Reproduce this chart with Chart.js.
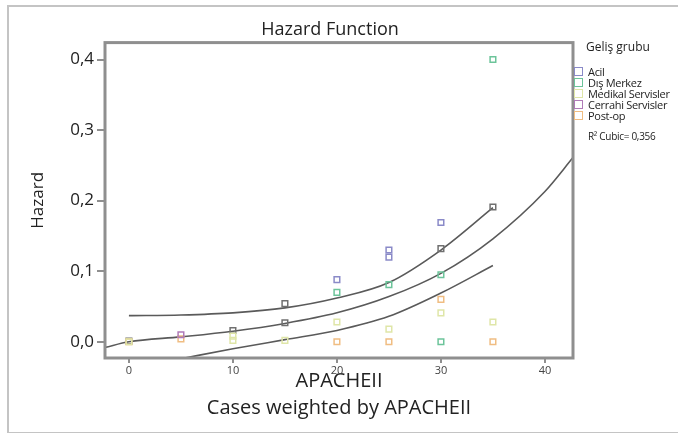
<!DOCTYPE html>
<html>
<head>
<meta charset="utf-8">
<script src="https://cdn.jsdelivr.net/npm/chart.js@4"></script>
<style>
  html, body { margin: 0; padding: 0; background: #fff; }
  #wrap { position: relative; width: 678px; height: 433px; overflow: hidden; font-family: "Open Sans", sans-serif; color: #222; }
  #frame { position: absolute; left: 7px; top: 5px; width: 690px; height: 425px; border: 2px solid #c4c4c4; }
  #legend { position: absolute; left: 574px; top: 41px; font-size: 11px; line-height: 11px; }
  #legend .head { font-size: 12px; margin: 0 0 14px 12px; }
  #legend .item { position: relative; padding-left: 14px; height: 11px; letter-spacing: -0.3px; white-space: nowrap; }
  #legend .box { position: absolute; left: 0; top: 1px; width: 7px; height: 7px; border: 1.5px solid; }
  #legend .r2 { font-size: 10px; margin: 10px 0 0 14px; letter-spacing: -0.3px; }
</style>
</head>
<body>
<div id="wrap">
  <div id="frame"></div>
  <canvas id="hazardChart" width="678" height="433"></canvas>
  <div id="legend"></div>
</div>
<script>
const xTicks = [0, 10, 20, 30, 40];
const yTicks = [0, 0.1, 0.2, 0.3, 0.4];

const seriesNames = ["Acil", "Dış Merkez", "Medikal Servisler", "Cerrahi Servisler", "Post-op"];
const seriesColors = ["#8a8ac8", "#6cc49a", "#dfe6a8", "#b07ab8", "#f0bd82"];

// observed hazard points per group (x = APACHEII)
const acilPts = [{x: 20, y: 0.088}, {x: 25, y: 0.130}, {x: 25, y: 0.120}, {x: 30, y: 0.169}];
const disMerkezPts = [{x: 20, y: 0.070}, {x: 25, y: 0.081}, {x: 30, y: 0.095}, {x: 30, y: 0.0}, {x: 35, y: 0.400}];
const medikalPts = [{x: 0, y: 0.0}, {x: 10, y: 0.008}, {x: 10, y: 0.002}, {x: 15, y: 0.002}, {x: 20, y: 0.028}, {x: 25, y: 0.018}, {x: 30, y: 0.041}, {x: 35, y: 0.028}];
const cerrahiPts = [{x: 5, y: 0.010}];
const postOpPts = [{x: 0, y: 0.0}, {x: 5, y: 0.004}, {x: 20, y: 0.0}, {x: 25, y: 0.0}, {x: 30, y: 0.060}, {x: 35, y: 0.0}];
const totalPts = [{x: 0, y: 0.001}, {x: 10, y: 0.016}, {x: 15, y: 0.054}, {x: 15, y: 0.027}, {x: 30, y: 0.132}, {x: 35, y: 0.191}];

// cubic fit and its bands
const fitX = [-2.3, 0, 5, 10, 15, 20, 25, 30, 35, 40, 42.7];
const fitY = [-0.008, 0.0, 0.007, 0.015, 0.026, 0.041, 0.064, 0.097, 0.146, 0.213, 0.261];
const upperX = [0, 5, 10, 15, 20, 25, 30, 35];
const upperY = [0.037, 0.038, 0.041, 0.048, 0.062, 0.084, 0.130, 0.190];
const lowerX = [5, 10, 15, 20, 25, 30, 35];
const lowerY = [-0.024, -0.010, 0.003, 0.016, 0.036, 0.069, 0.108];

const groupPts = [acilPts, disMerkezPts, medikalPts, cerrahiPts, postOpPts];

function pairs(xs, ys) {
  return xs.map((x, i) => ({x: x, y: ys[i]}));
}

function curve(xs, ys) {
  return {
    type: "line",
    data: pairs(xs, ys),
    borderColor: "#5a5a5a",
    borderWidth: 1.6,
    pointRadius: 0,
    fill: false,
    cubicInterpolationMode: "monotone",
  };
}

const datasets = [];
groupPts.forEach((pts, i) => {
  datasets.push({
    type: "scatter",
    label: seriesNames[i],
    data: pts,
    pointStyle: "rect",
    pointRadius: 4,
    borderColor: seriesColors[i],
    backgroundColor: "rgba(255,255,255,0)",
    borderWidth: 1.5,
  });
});
datasets.push({
  type: "scatter",
  label: "total",
  data: totalPts,
  pointStyle: "rect",
  pointRadius: 4,
  borderColor: "#707070",
  backgroundColor: "rgba(255,255,255,0)",
  borderWidth: 1.5,
});
datasets.push(curve(fitX, fitY));
datasets.push(curve(upperX, upperY));
datasets.push(curve(lowerX, lowerY));

//draws the gray box round the plot area
const plotFrame = {
  id: "plotFrame",
  afterDatasetsDraw(chart) {
    const a = chart.chartArea;
    const ctx = chart.ctx;
    ctx.save();
    ctx.strokeStyle = "#8f8f8f";
    ctx.lineWidth = 3;
    ctx.strokeRect(a.left, a.top, a.right - a.left, a.bottom - a.top);
    ctx.restore();
  },
};

const fmt = (v) => v.toFixed(1).replace(".", ",");

new Chart(document.getElementById("hazardChart").getContext("2d"), {
  data: { datasets: datasets },
  plugins: [plotFrame],
  options: {
    responsive: false,
    animation: false,
    layout: { padding: { left: 0, right: 18, top: 0, bottom: 0 } },
    plugins: {
      legend: { display: false },
      tooltip: { enabled: false },
      title: {
        display: true,
        text: "Hazard Function",
        color: "#222",
        font: { family: "Open Sans", size: 18, weight: "normal" },
        padding: { top: 19, bottom: 2 },
      },
    },
    scales: {
      x: {
        type: "linear",
        min: -2.3,
        max: 42.7,
        afterBuildTicks: (s) => { s.ticks = xTicks.map((v) => ({value: v})); },
        afterFit: (s) => { s.height = 75; },
        border: { display: false },
        grid: { drawOnChartArea: false, tickLength: 5, color: "#8f8f8f", lineWidth: 2 },
        ticks: { color: "#444", font: { family: "Open Sans", size: 11 }, padding: 1 },
        title: {
          display: true,
          text: ["APACHEII", "Cases weighted by APACHEII"],
          color: "#222",
          font: { family: "Open Sans", size: 20, lineHeight: 1.35 },
          padding: { top: 0, bottom: 11 },
        },
      },
      y: {
        type: "linear",
        min: -0.023,
        max: 0.424,
        afterBuildTicks: (s) => { s.ticks = yTicks.map((v) => ({value: v})); },
        afterFit: (s) => { s.width = 105; },
        border: { display: false },
        grid: { drawOnChartArea: false, tickLength: 8, color: "#8f8f8f", lineWidth: 2 },
        ticks: { color: "#222", font: { family: "Open Sans", size: 17 }, padding: 3, callback: (v) => fmt(v) },
        title: {
          display: true,
          text: "Hazard",
          color: "#222",
          font: { family: "Open Sans", size: 17 },
          padding: { top: 28, bottom: 0 },
        },
      },
      // empty right axis that keeps room for the legend
      side: {
        type: "linear",
        position: "right",
        afterFit: (s) => { s.width = 87; },
        border: { display: false },
        grid: { display: false },
        ticks: { display: false },
      },
    },
  },
});

// legend built from the group arrays
const legend = document.getElementById("legend");
let html = '<div class="head">Geliş grubu</div>';
seriesNames.forEach((name, i) => {
  html += '<div class="item"><span class="box" style="border-color:' + seriesColors[i] + '"></span>' + name + "</div>";
});
html += '<div class="r2">R² Cubic= 0,356</div>';
legend.innerHTML = html;
</script>
</body>
</html>
